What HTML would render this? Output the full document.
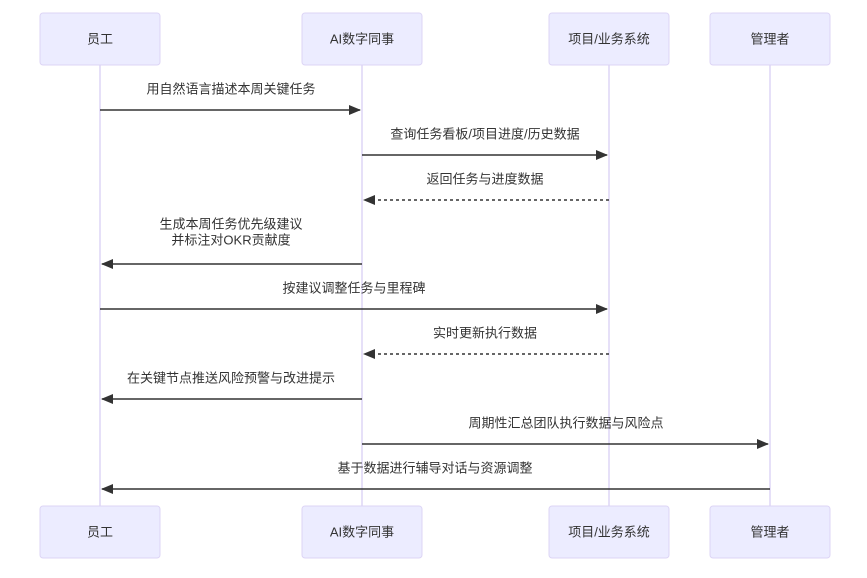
<!DOCTYPE html>
<html><head><meta charset="utf-8"><style>
html,body{margin:0;padding:0;background:#fff;}
svg text{font-family:"Liberation Sans","Noto Sans CJK SC",sans-serif;fill:#333;}
</style></head><body>
<svg width="867" height="573" viewBox="0 0 867 573" xmlns="http://www.w3.org/2000/svg">
<defs>
<marker id="ah" markerWidth="12" markerHeight="10" refX="11" refY="5" orient="auto" markerUnits="userSpaceOnUse">
<path d="M0,0 L12,5 L0,10 z" fill="#333"/>
</marker>
</defs>
<g stroke="#ddd5f5" stroke-width="1.5">
<line x1="100" y1="65" x2="100" y2="506"/>
<line x1="362" y1="65" x2="362" y2="506"/>
<line x1="609" y1="65" x2="609" y2="506"/>
<line x1="770" y1="65" x2="770" y2="506"/>
</g>
<g fill="#ECECFF" stroke="#ddd5f5" stroke-width="1">
<rect x="40" y="13" width="120" height="52" rx="3"/>
<rect x="302" y="13" width="120" height="52" rx="3"/>
<rect x="549" y="13" width="120" height="52" rx="3"/>
<rect x="710" y="13" width="120" height="52" rx="3"/>
<rect x="40" y="506" width="120" height="52" rx="3"/>
<rect x="302" y="506" width="120" height="52" rx="3"/>
<rect x="549" y="506" width="120" height="52" rx="3"/>
<rect x="710" y="506" width="120" height="52" rx="3"/>
</g>
<g font-size="13" text-anchor="middle" dominant-baseline="central">
<text x="100" y="39">员工</text><text x="362" y="39">AI数字同事</text><text x="609" y="39">项目/业务系统</text><text x="770" y="39">管理者</text>
<text x="100" y="532">员工</text><text x="362" y="532">AI数字同事</text><text x="609" y="532">项目/业务系统</text><text x="770" y="532">管理者</text>
</g>
<g stroke="#333" stroke-width="1.5" marker-end="url(#ah)">
<line x1="100" y1="110" x2="360" y2="110"/>
<line x1="362" y1="155" x2="607" y2="155"/>
<line x1="609" y1="200" x2="364" y2="200" stroke-dasharray="3,3"/>
<line x1="362" y1="264" x2="102" y2="264"/>
<line x1="100" y1="309" x2="607" y2="309"/>
<line x1="609" y1="354" x2="364" y2="354" stroke-dasharray="3,3"/>
<line x1="362" y1="399" x2="102" y2="399"/>
<line x1="362" y1="444" x2="768" y2="444"/>
<line x1="770" y1="489" x2="102" y2="489"/>
</g>
<g font-size="13" text-anchor="middle" dominant-baseline="central">
<text x="231" y="89">用自然语言描述本周关键任务</text>
<text x="485" y="134">查询任务看板/项目进度/历史数据</text>
<text x="485" y="179">返回任务与进度数据</text>
<text x="231" y="224">生成本周任务优先级建议</text>
<text x="231" y="240">并标注对OKR贡献度</text>
<text x="354" y="288">按建议调整任务与里程碑</text>
<text x="485" y="333">实时更新执行数据</text>
<text x="231" y="378">在关键节点推送风险预警与改进提示</text>
<text x="566" y="423">周期性汇总团队执行数据与风险点</text>
<text x="435" y="468">基于数据进行辅导对话与资源调整</text>
</g>
</svg>
</body></html>
